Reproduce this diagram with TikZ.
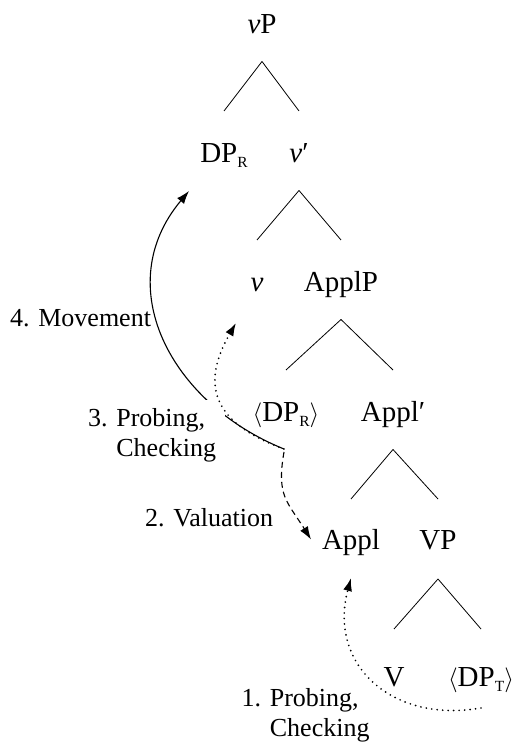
\documentclass[tikz,border=0pt]{standalone}
\usepackage{fontspec}
\setmainfont{Liberation Serif}
\usetikzlibrary{arrows.meta}
\tikzset{
>={Latex[length=13pt,width=9pt]}, % filled arrow heads
cat/.style={anchor=base, inner sep=0pt, font=\fontsize{29}{34}\selectfont}, % tree categories
lbl/.style={anchor=base west, inner sep=0pt, align=left, font=\fontsize{26}{30}\selectfont}, % arrow labels, base = last line
branch/.style={line width=0.8pt}, % tree branches
move/.style={->, line width=1.1pt}, % movement and agree arrows
dots/.style={line width=1.9pt, line cap=round, dash pattern=on 0pt off 5.5pt},
dashes/.style={dash pattern=on 6pt off 4pt},
}
\newcommand{\dpsub}[1]{DP\raisebox{-5pt}{\fontsize{15.5}{15}\selectfont #1}}
\newcommand{\copyof}[1]{$\langle$#1$\rangle$}

\begin{document}
\begin{tikzpicture}[x=1pt, y=1pt]
  \useasboundingbox (0,0) rectangle (516,747);
  \node[cat] (vP) at (262,713) {\textit{v}P};
  \node[cat] (DPR) at (224,584) {\dpsub{R}};
  \node[cat] (vbar) at (299,584) {\textit{v}′};
  \node[cat] (v) at (257,455) {\textit{v}};
  \node[cat] (ApplP) at (341,455) {ApplP};
  \node[cat] (DPRt) at (286,325) {\copyof{\dpsub{R}}};
  \node[cat] (Applbar) at (393,325) {Appl′};
  \node[cat] (Appl) at (351,197) {Appl};
  \node[cat] (VP) at (438,197) {VP};
  \node[cat] (V) at (394,60) {V};
  \node[cat] (DPT) at (481,60) {\copyof{\dpsub{T}}};

  \draw[branch] ([yshift=-27.5pt]vP.base) edge ([yshift=52pt]DPR.base)
                                         edge ([yshift=52pt]vbar.base)
                ([yshift=-27.5pt]vbar.base) edge ([yshift=52pt]v.base)
                                           edge ([yshift=52pt]ApplP.base)
                ([yshift=-27.5pt]ApplP.base) edge ([yshift=52pt]DPRt.base)
                                            edge ([yshift=52pt]Applbar.base)
                ([yshift=-27.5pt]Applbar.base) edge ([yshift=51pt]Appl.base)
                                              edge ([yshift=51pt]VP.base)
                ([yshift=-29pt]VP.base) edge ([yshift=58pt]V.base)
                                       edge ([yshift=58pt]DPT.base);

  \coordinate (j) at ([xshift=-2pt,yshift=-27pt]DPRt.base);
  \draw[move] (j) to[out=158, in=230, looseness=1.15] ([xshift=-35pt,yshift=-28pt]DPR.base);
  \node[lbl, fill=white, inner sep=9pt] (probe3) at (79,290.3) {3. Probing,\\\phantom{3. }Checking};
  \draw[move, dots] (j) to[out=160, in=240, looseness=1.4] ([xshift=-21pt,yshift=-31pt]v.base);
  \draw[move, dashes] ([yshift=-3pt]j) to[out=-100, in=122, looseness=1.25] ([xshift=-40pt,yshift=10.5pt]Appl.base);
  \draw[move, dots] ([yshift=-21pt]DPT.base) to[out=190, in=255, looseness=1.25] ([yshift=-28pt]Appl.base);

  \node[lbl] (movelab) at (10,420) {4. Movement};
  \node[lbl] (valuelab) at (145,220.3) {2. Valuation};
  \node[lbl] (probe1) at (241.5,10.3) {1. Probing,\\\phantom{1. }Checking};
\end{tikzpicture}
\end{document}
